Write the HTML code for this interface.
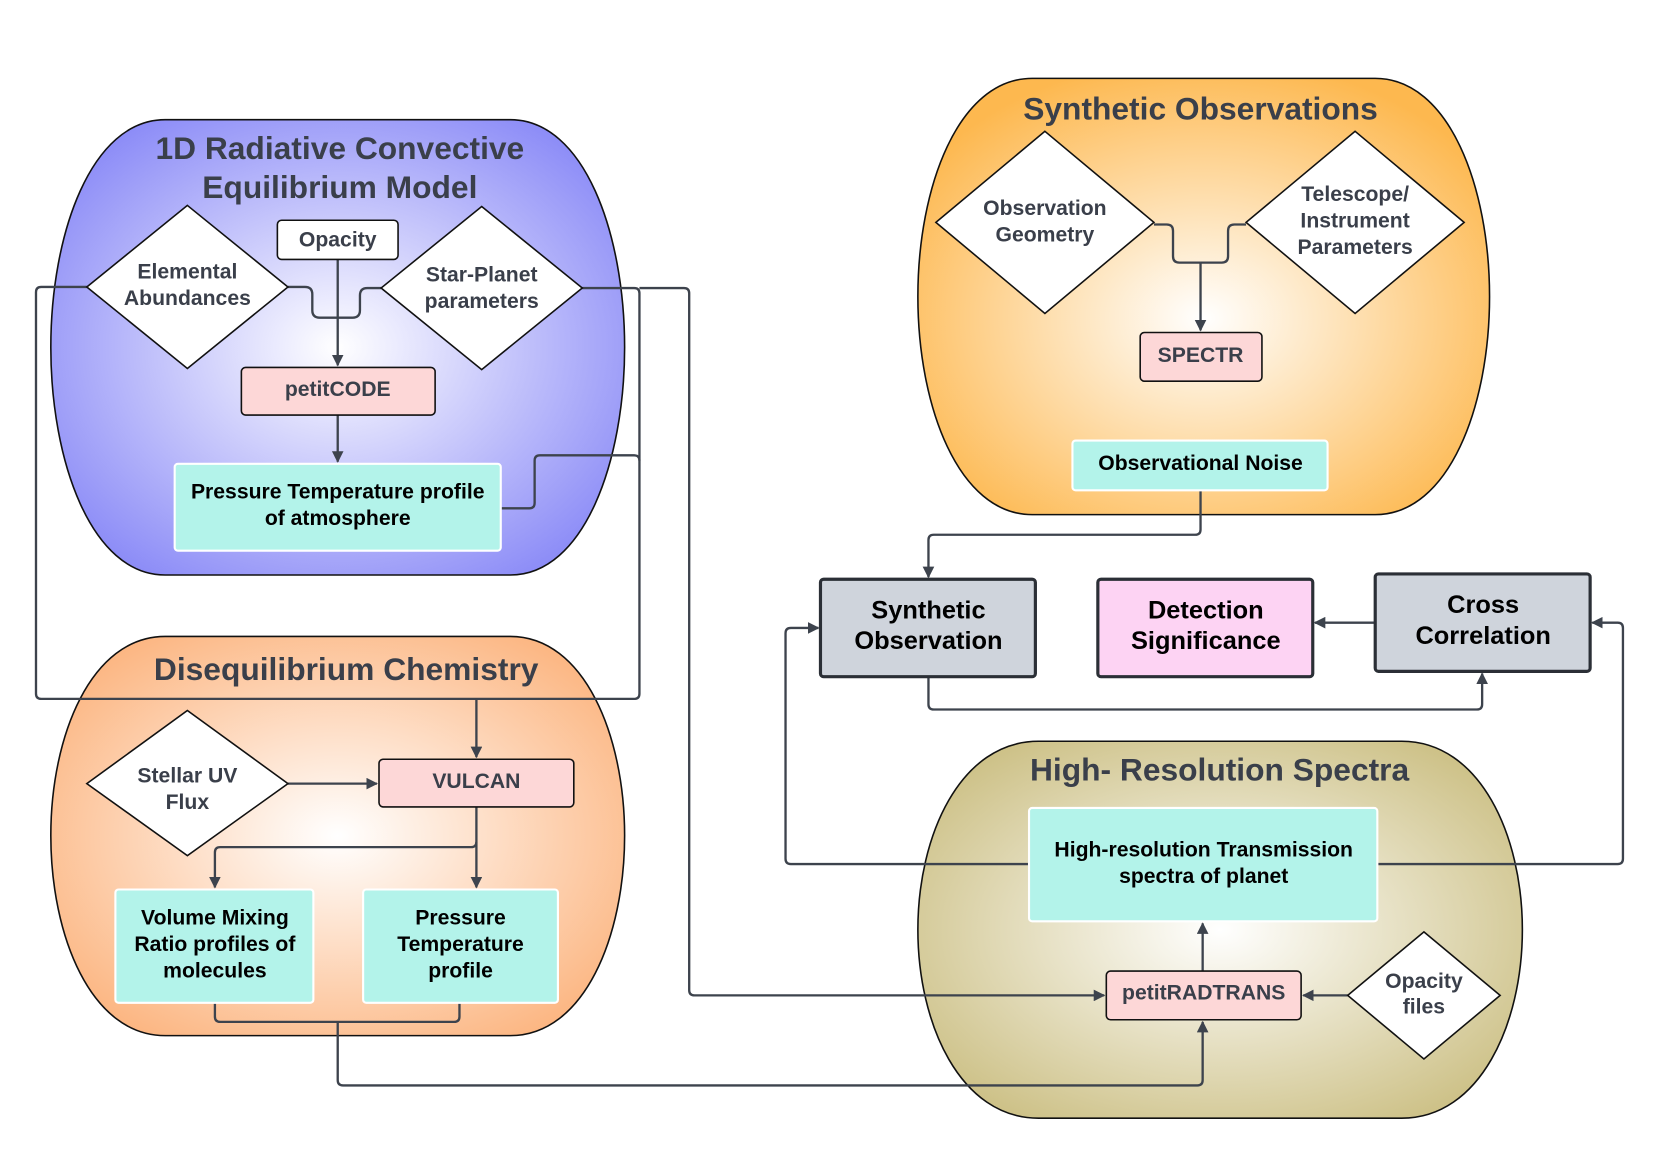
<!DOCTYPE html>
<html><head><meta charset="utf-8"><style>html,body{margin:0;padding:0;background:#fff}svg{display:block}</style></head>
<body>
<svg xmlns="http://www.w3.org/2000/svg" width="1660" height="1168" viewBox="0 0 1568 1103" preserveAspectRatio="none" font-family="Liberation Sans, sans-serif" font-weight="bold">
<defs>
<radialGradient id="gb" cx="50%" cy="50%" r="60%"><stop offset="0" stop-color="#fff"/><stop offset="1" stop-color="#8c8cf7"/></radialGradient>
<radialGradient id="go" cx="50%" cy="55%" r="60%"><stop offset="0" stop-color="#fff"/><stop offset="1" stop-color="#fdb84f"/></radialGradient>
<radialGradient id="gd" cx="50%" cy="50%" r="60%"><stop offset="0" stop-color="#fff"/><stop offset="1" stop-color="#fcb682"/></radialGradient>
<radialGradient id="gt" cx="50%" cy="50%" r="60%"><stop offset="0" stop-color="#fff"/><stop offset="1" stop-color="#cdc187"/></radialGradient>
<marker id="a" viewBox="0 0 10 10" refX="9" refY="5" markerWidth="5" markerHeight="5" orient="auto"><path d="M0,0L10,5L0,10z" fill="#3d434d"/></marker>
</defs>
<g stroke="#111" stroke-width="1.5">
<path d="M156,113H482C552,113 590,221 590,328C590,435 552,543 482,543H156C86,543 48,435 48,328C48,221 86,113 156,113Z" fill="url(#gb)"/>
<path d="M975,74H1299C1369,74 1407,177 1407,280C1407,383 1369,486 1299,486H975C905,486 867,383 867,280C867,177 905,74 975,74Z" fill="url(#go)"/>
<path d="M156,601H482C552,601 590,695 590,789C590,884 552,978 482,978H156C86,978 48,884 48,789C48,695 86,601 156,601Z" fill="url(#gd)"/>
<path d="M981,700H1324C1398,700 1438,789 1438,878C1438,967 1398,1056 1324,1056H981C907,1056 867,967 867,878C867,789 907,700 981,700Z" fill="url(#gt)"/>
</g>
<g fill="#3a3f4a" font-size="30" text-anchor="middle">
<text x="321" y="150">1D Radiative Convective</text>
<text x="321" y="187">Equilibrium Model</text>
<text x="1134" y="113">Synthetic Observations</text>
<text x="327" y="642">Disequilibrium Chemistry</text>
<text x="1152" y="737">High- Resolution Spectra</text>
</g>
<g fill="none" stroke="#3d434d" stroke-width="2.2">
<path d="M272,271H288Q295,271 295,278V293Q295,300 302,300H319"/>
<path d="M360,272H347Q340,272 340,279V293Q340,300 333,300H319"/>
<path d="M319,245V345" marker-end="url(#a)"/>
<path d="M319,392V436" marker-end="url(#a)"/>
<path d="M473,480H500Q505,480 505,475V435Q505,430 510,430H599Q604,430 604,435"/>
<path d="M550,272H599Q604,272 604,277V655Q604,660 599,660H39Q34,660 34,655V276Q34,271 39,271H82"/>
<path d="M450,660V715" marker-end="url(#a)"/>
<path d="M604,272H646Q651,272 651,277V935Q651,940 656,940H1043" marker-end="url(#a)"/>
<path d="M272,740H356" marker-end="url(#a)"/>
<path d="M450,762V838" marker-end="url(#a)"/>
<path d="M450,795Q450,800 445,800H208Q203,800 203,805V838" marker-end="url(#a)"/>
<path d="M203,947V960Q203,965 208,965H429Q434,965 434,960V947"/>
<path d="M319,965V1020Q319,1025 324,1025H1131Q1136,1025 1136,1020V965" marker-end="url(#a)"/>
<path d="M1136,917V872" marker-end="url(#a)"/>
<path d="M1273,940H1231" marker-end="url(#a)"/>
<path d="M972,816H747Q742,816 742,811V598Q742,593 747,593H773" marker-end="url(#a)"/>
<path d="M1301,816H1528Q1533,816 1533,811V593Q1533,588 1528,588H1504" marker-end="url(#a)"/>
<path d="M1299,588H1242" marker-end="url(#a)"/>
<path d="M877,639V665Q877,670 882,670H1395Q1400,670 1400,665V636" marker-end="url(#a)"/>
<path d="M1134,463V500Q1134,505 1129,505H882Q877,505 877,510V545" marker-end="url(#a)"/>
<path d="M1090,212H1102Q1108,212 1108,218V242Q1108,248 1114,248H1134"/>
<path d="M1177,212H1166Q1160,212 1160,218V242Q1160,248 1154,248H1134"/>
<path d="M1134,248V312" marker-end="url(#a)"/>
</g>
<g stroke="#111" stroke-width="1.5" fill="#fff">
<path d="M177,194L272,271L177,348L82,271Z"/>
<path d="M455,195L550,272L455,349L360,272Z"/>
<path d="M987,124L1090,210L987,296L884,210Z"/>
<path d="M1280,124L1383,210L1280,296L1177,210Z"/>
<path d="M177,671L272,740L177,808L82,740Z"/>
<path d="M1345,880L1417,940L1345,1000L1273,940Z"/>
<rect x="262" y="208" width="114" height="37" rx="4"/>
<rect x="228" y="347" width="183" height="45" rx="4" fill="#fdd7d7"/>
<rect x="1077" y="314" width="115" height="46" rx="4" fill="#fdd7d7"/>
<rect x="358" y="717" width="184" height="45" rx="4" fill="#fdd7d7"/>
<rect x="1045" y="917" width="184" height="46" rx="4" fill="#fdd7d7"/>
</g>
<g stroke="#fff" stroke-width="2" fill="#b3f3ea">
<rect x="165" y="438" width="308" height="82" rx="3"/>
<rect x="1013" y="416" width="241" height="47" rx="3"/>
<rect x="109" y="840" width="187" height="107" rx="3"/>
<rect x="343" y="840" width="184" height="107" rx="3"/>
<rect x="972" y="763" width="329" height="107" rx="3"/>
</g>
<g stroke="#2b2f36" stroke-width="3">
<rect x="775" y="547" width="203" height="92" rx="3" fill="#cfd4dc"/>
<rect x="1037" y="547" width="203" height="92" rx="3" fill="#fdd3f3"/>
<rect x="1299" y="542" width="203" height="92" rx="3" fill="#cfd4dc"/>
</g>
<g fill="#3a3f4a" font-size="20" text-anchor="middle">
<text x="177" y="263">Elemental</text><text x="177" y="288">Abundances</text>
<text x="319" y="233">Opacity</text>
<text x="455" y="266">Star-Planet</text><text x="455" y="291">parameters</text>
<text x="319" y="374">petitCODE</text>
<text x="987" y="203">Observation</text><text x="987" y="228">Geometry</text>
<text x="1280" y="190">Telescope/</text><text x="1280" y="215">Instrument</text><text x="1280" y="240">Parameters</text>
<text x="1134" y="342">SPECTR</text>
<text x="177" y="739">Stellar UV</text><text x="177" y="764">Flux</text>
<text x="450" y="744">VULCAN</text>
<text x="1137" y="944">petitRADTRANS</text>
<text x="1345" y="933">Opacity</text><text x="1345" y="957">files</text>
</g>
<g fill="#000" font-size="20" text-anchor="middle">
<text x="319" y="471">Pressure Temperature profile</text><text x="319" y="496">of atmosphere</text>
<text x="1134" y="444">Observational Noise</text>
<text x="203" y="873">Volume Mixing</text><text x="203" y="898">Ratio profiles of</text><text x="203" y="923">molecules</text>
<text x="435" y="873">Pressure</text><text x="435" y="898">Temperature</text><text x="435" y="923">profile</text>
<text x="1137" y="809">High-resolution Transmission</text><text x="1137" y="834">spectra of planet</text>
</g>
<g fill="#000" font-size="24" text-anchor="middle">
<text x="877" y="584">Synthetic</text><text x="877" y="613">Observation</text>
<text x="1139" y="584">Detection</text><text x="1139" y="613">Significance</text>
<text x="1401" y="579">Cross</text><text x="1401" y="608">Correlation</text>
</g>
</svg>
</body></html>
